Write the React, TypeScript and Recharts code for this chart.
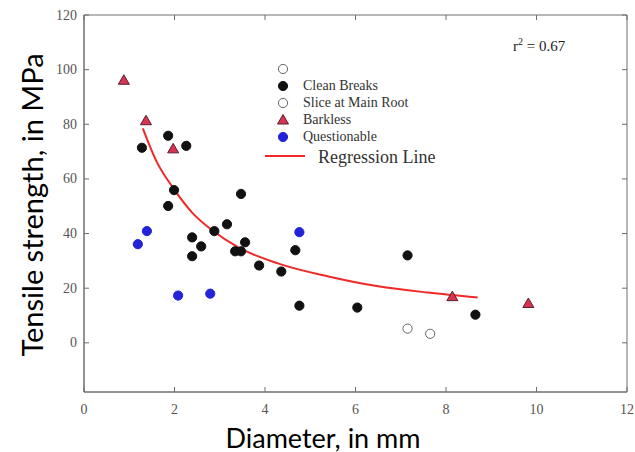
import React from "react";
import { ScatterChart, Scatter, XAxis, YAxis, CartesianGrid } from "recharts";

// values (diameter in mm, tensile strength in MPa)
const cleanDiameter = [1.28, 1.86, 2.26, 1.99, 1.86, 3.47, 3.16, 2.88, 2.39, 2.59, 2.39, 3.56, 3.34, 3.47, 3.87, 4.36, 4.67, 4.76, 6.04, 7.15, 8.65];
const cleanStrength = [71.4, 75.8, 72.1, 55.9, 50.1, 54.5, 43.4, 40.9, 38.6, 35.3, 31.7, 36.8, 33.5, 33.5, 28.3, 26.1, 33.9, 13.6, 12.9, 32.0, 10.3];

const sliceDiameter = [7.15, 7.65];
const sliceStrength = [5.2, 3.3];

const barklessDiameter = [0.88, 1.37, 1.97, 8.14, 9.82];
const barklessStrength = [96.1, 81.3, 71.0, 16.9, 14.4];

const questionDiameter = [1.39, 1.19, 2.08, 2.79, 4.76];
const questionStrength = [40.9, 36.1, 17.3, 18.0, 40.5];

const regressionDiameter = [1.3, 1.6, 2.0, 2.4, 2.85, 3.4, 4.3, 5.4, 6.5, 7.6, 8.7];
const regressionStrength = [78.5, 66.5, 56, 47.5, 41, 35, 29, 24.3, 20.7, 18.4, 16.6];

const xTicks = [0, 2, 4, 6, 8, 10, 12];
const yTicks = [0, 20, 40, 60, 80, 100, 120];

const toPoints = (xs: number[], ys: number[]) => xs.map((x, i) => ({ x, y: ys[i] }));

const W = 635;
const H = 452;
const MARGIN = { top: 15, right: 8, bottom: 30, left: 24 };
const PLOT_TOP = MARGIN.top;
const PLOT_RIGHT = W - MARGIN.right;

const AXIS = "#6e6e6e";
const TICK_FONT = "'Liberation Serif', 'Times New Roman', serif";

// left ticks also mirror an inward tick on the right edge
const LeftTick = ({ x, y, payload }: any) => (
  <g>
    <line x1={x} x2={x + 5} y1={y} y2={y} stroke={AXIS} />
    <line x1={PLOT_RIGHT} x2={PLOT_RIGHT - 5} y1={y} y2={y} stroke={AXIS} />
    <text x={x - 7} y={y} dy={4.5} textAnchor="end" fontFamily={TICK_FONT} fontSize={14} fill="#555">
      {payload.value}
    </text>
  </g>
);

// bottom ticks also mirror an inward tick on the top edge
const BottomTick = ({ x, y, payload }: any) => (
  <g>
    <line x1={x} x2={x} y1={y} y2={y - 5} stroke={AXIS} />
    <line x1={x} x2={x} y1={PLOT_TOP} y2={PLOT_TOP + 5} stroke={AXIS} />
    <text x={x} y={y + 22} textAnchor="middle" fontFamily={TICK_FONT} fontSize={14} fill="#555">
      {payload.value}
    </text>
  </g>
);

const dot = (fill: string, stroke: string) => (props: any) =>
  <circle cx={props.cx} cy={props.cy} r={4.6} fill={fill} stroke={stroke} strokeWidth={1} />;

const triangle = (props: any) => {
  const { cx, cy } = props;
  return (
    <polygon
      points={`${cx},${cy - 5.5} ${cx - 5.5},${cy + 4} ${cx + 5.5},${cy + 4}`}
      fill="#d8344f"
      stroke="#5a2030"
      strokeWidth={1}
    />
  );
};

const legendRows = [
  { label: "", kind: "open" },
  { label: "Clean Breaks", kind: "black" },
  { label: "Slice at Main Root", kind: "open" },
  { label: "Barkless", kind: "tri" },
  { label: "Questionable", kind: "blue" },
];

function LegendBox() {
  return (
    <div style={{ fontFamily: TICK_FONT, color: "#333" }}>
      {legendRows.map((r, i) => (
        <div key={i} style={{ display: "flex", alignItems: "center", height: 17 }}>
          <svg width={30} height={14}>
            {r.kind === "tri" ? (
              <polygon points="10,1.5 4.5,11 15.5,11" fill="#d8344f" stroke="#5a2030" />
            ) : (
              <circle
                cx={10}
                cy={7}
                r={4.6}
                fill={r.kind === "black" ? "#111" : r.kind === "blue" ? "#2323d8" : "#fff"}
                stroke={r.kind === "open" ? "#666" : r.kind === "blue" ? "#2323d8" : "#111"}
              />
            )}
          </svg>
          <span style={{ fontSize: 14, lineHeight: "17px" }}>{r.label}</span>
        </div>
      ))}
      <div style={{ display: "flex", alignItems: "center", height: 24, marginLeft: -8 }}>
        <svg width={53} height={10}>
          <line x1={0} x2={40} y1={4} y2={4} stroke="#f02828" strokeWidth={2} />
        </svg>
        <span style={{ fontSize: 18 }}>Regression Line</span>
      </div>
    </div>
  );
}

export default function App() {
  return (
    <div style={{ position: "absolute", left: 0, top: 0, width: W, height: H, background: "#fff" }}>
      <ScatterChart width={W} height={H} margin={MARGIN}>
        {/* frame: only the outer edges of the plot area */}
        <CartesianGrid
          stroke={AXIS}
          horizontalCoordinatesGenerator={({ offset }: any) => [offset.top, offset.top + offset.height]}
          verticalCoordinatesGenerator={({ offset }: any) => [offset.left, offset.left + offset.width]}
        />
        <XAxis
          type="number"
          dataKey="x"
          domain={[0, 12]}
          ticks={xTicks}
          height={30}
          stroke={AXIS}
          tickSize={0}
          tickMargin={0}
          tick={<BottomTick />}
          interval={0}
        />
        <YAxis
          type="number"
          dataKey="y"
          domain={[-18, 120]}
          ticks={yTicks}
          width={60}
          stroke={AXIS}
          tickSize={0}
          tickMargin={0}
          tick={<LeftTick />}
          interval={0}
        />
        <Scatter
          name="Regression Line"
          data={toPoints(regressionDiameter, regressionStrength)}
          shape={() => <g />}
          line={{ stroke: "#f02828", strokeWidth: 2 }}
          lineJointType="monotoneX"
          isAnimationActive={false}
        />
        <Scatter name="Clean Breaks" data={toPoints(cleanDiameter, cleanStrength)} shape={dot("#111", "#111")} isAnimationActive={false} />
        <Scatter name="Slice at Main Root" data={toPoints(sliceDiameter, sliceStrength)} shape={dot("#fff", "#666")} isAnimationActive={false} />
        <Scatter name="Barkless" data={toPoints(barklessDiameter, barklessStrength)} shape={triangle} isAnimationActive={false} />
        <Scatter name="Questionable" data={toPoints(questionDiameter, questionStrength)} shape={dot("#2323d8", "#2323d8")} isAnimationActive={false} />
      </ScatterChart>

      <div style={{ position: "absolute", left: 273, top: 60 }}>
        <LegendBox />
      </div>

      <div style={{ position: "absolute", left: 513, top: 36, fontFamily: TICK_FONT, fontSize: 15, color: "#222" }}>
        r<sup style={{ fontSize: 10 }}>2</sup> = 0.67
      </div>

      <div
        style={{
          position: "absolute",
          left: 31,
          top: 205,
          transform: "translate(-50%, -50%) rotate(-90deg)",
          whiteSpace: "nowrap",
          fontFamily: "Lato, 'Open Sans', sans-serif",
          fontSize: 29,
          color: "#000",
        }}
      >
        Tensile strength, in MPa
      </div>
      <div
        style={{
          position: "absolute",
          left: 323,
          top: 437,
          transform: "translate(-50%, -50%)",
          whiteSpace: "nowrap",
          fontFamily: "Lato, 'Open Sans', sans-serif",
          fontSize: 27,
          color: "#000",
        }}
      >
        Diameter, in mm
      </div>
    </div>
  );
}
